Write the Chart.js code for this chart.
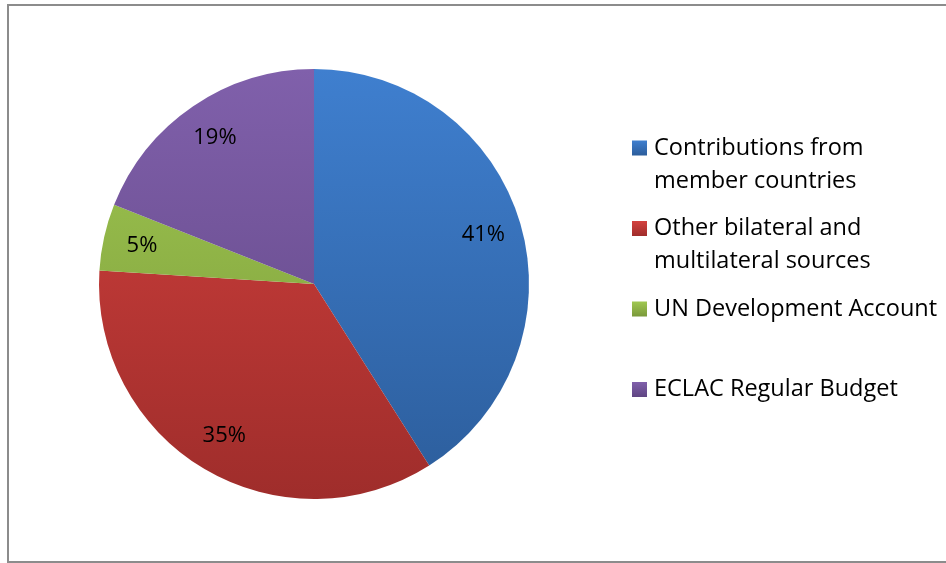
<!DOCTYPE html>
<html>
<head>
<meta charset="utf-8">
<script src="https://cdn.jsdelivr.net/npm/chart.js@4.4.1/dist/chart.umd.min.js"></script>
<style>
  html, body { margin: 0; padding: 0; background: #fff; overflow: hidden; width: 946px; height: 563px; }
  #frame {
    position: absolute; left: 7px; top: 4px; width: 1000px; height: 559px;
    border: 2px solid #8c8c8c; box-sizing: border-box;
  }
  #wrap { position: absolute; left: 0; top: 0; width: 946px; height: 563px; }
</style>
</head>
<body>
<div id="frame"></div>
<div id="wrap"><canvas id="pie"></canvas></div>
<script>
// categories (legend lines as Excel wraps them)
const categories = [
  ["Contributions from", "member countries"],
  ["Other bilateral and", "multilateral sources"],
  ["UN Development Account"],
  ["ECLAC Regular Budget"]
];
const shares = [41, 35, 5, 19];
const pctLabels = ["41%", "35%", "5%", "19%"];

// light (top) / dark (bottom) shades per slice
const lightColors = ["#3f7fcf", "#d4413e", "#a0c851", "#8060ab"];
const darkColors  = ["#2c5d9b", "#9f2d2b", "#7a993a", "#5f4582"];

const FONT = "'Open Sans', Lato, sans-serif";

function sliceFill(ctx) {
  const chart = ctx.chart;
  const a = chart.chartArea;
  if (!a) return lightColors[ctx.dataIndex];
  const g = chart.ctx.createLinearGradient(0, a.top, 0, a.bottom);
  g.addColorStop(0, lightColors[ctx.dataIndex]);
  g.addColorStop(1, darkColors[ctx.dataIndex]);
  return g;
}

/* percentage labels inside the slices */
const sliceLabels = {
  id: "sliceLabels",
  afterDatasetsDraw(chart) {
    const c = chart.ctx;
    const meta = chart.getDatasetMeta(0);
    c.save();
    c.font = "22px " + FONT;
    c.fillStyle = "#000";
    c.textAlign = "center";
    c.textBaseline = "middle";
    meta.data.forEach((arc, i) => {
      const mid = (arc.startAngle + arc.endAngle) / 2;
      const r = arc.outerRadius * 0.82;
      c.fillText(pctLabels[i], arc.x + Math.cos(mid) * r, arc.y + Math.sin(mid) * r);
    });
    c.restore();
  }
};

/* legend on the right, with wrapped lines */
const sideLegend = {
  id: "sideLegend",
  afterDraw(chart) {
    const c = chart.ctx;
    const x0 = 632, y0 = 148, slot = 80.5, lineH = 33, box = 15;
    c.save();
    c.font = "23.5px " + FONT;
    c.textBaseline = "middle";
    c.textAlign = "left";
    categories.forEach((lines, i) => {
      const y = y0 + i * slot;
      const g = c.createLinearGradient(0, y - box / 2, 0, y + box / 2);
      g.addColorStop(0, lightColors[i]);
      g.addColorStop(1, darkColors[i]);
      c.fillStyle = g;
      c.fillRect(x0, y - box / 2, box, box);
      c.fillStyle = "#000";
      lines.forEach((t, j) => c.fillText(t, x0 + 22, y + j * lineH));
    });
    c.restore();
  }
};

new Chart(document.getElementById("pie"), {
  type: "pie",
  data: {
    labels: categories,
    datasets: [{
      data: shares,
      backgroundColor: sliceFill,
      borderWidth: 0
    }]
  },
  options: {
    responsive: true,
    maintainAspectRatio: false,
    animation: false,
    layout: { padding: { left: 99, right: 417, top: 69, bottom: 64 } },
    plugins: {
      legend: { display: false },
      tooltip: { enabled: false }
    }
  },
  plugins: [sliceLabels, sideLegend]
});
</script>
</body>
</html>
